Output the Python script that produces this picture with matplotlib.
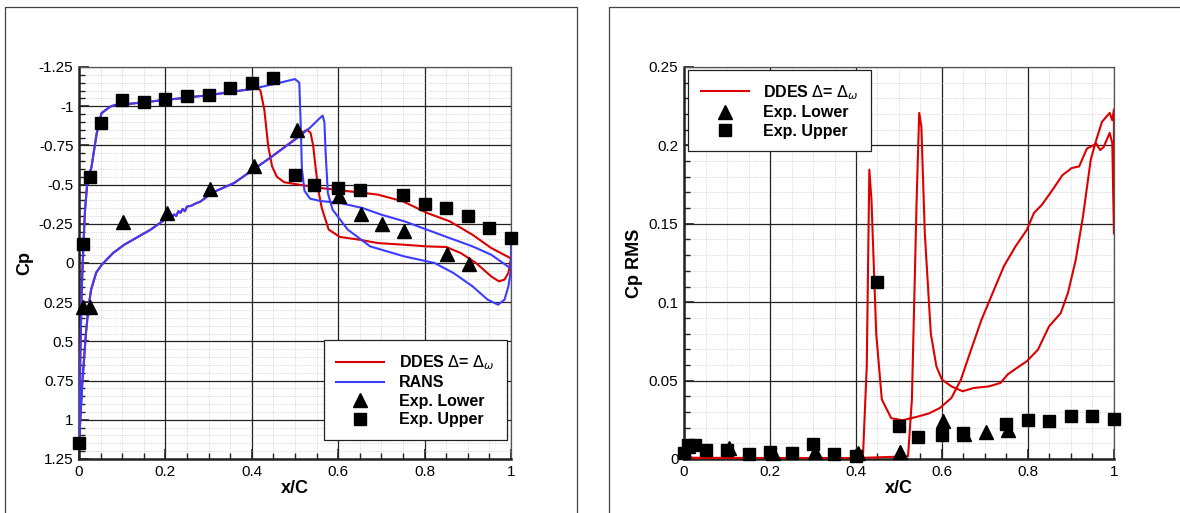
"""Surface Cp and Cp RMS along the chord: DDES / RANS vs experiment."""

import matplotlib.pyplot as plt
from matplotlib.ticker import MultipleLocator

plt.rcParams["font.family"] = ["Liberation Sans", "DejaVu Sans"]
plt.rcParams["mathtext.fontset"] = "dejavusans"

# ---- left panel: mean Cp ----
exp_up_x = [0.0, 0.01, 0.025, 0.05, 0.1, 0.15, 0.2, 0.25, 0.3, 0.35, 0.4, 0.45,
            0.5, 0.545, 0.6, 0.65, 0.75, 0.8, 0.85, 0.9, 0.95, 1.0]
exp_up_cp = [1.15, -0.12, -0.55, -0.89, -1.04, -1.025, -1.045, -1.063, -1.07, -1.115,
             -1.15, -1.18, -0.56, -0.5, -0.478, -0.463, -0.431, -0.378, -0.35, -0.302,
             -0.223, -0.159]
exp_lo_x = [0.01, 0.026, 0.103, 0.203, 0.304, 0.404, 0.504, 0.602, 0.652, 0.702,
            0.753, 0.852, 0.902]
exp_lo_cp = [0.281, 0.281, -0.259, -0.319, -0.474, -0.616, -0.85, -0.425, -0.312,
             -0.25, -0.202, -0.06, 0.006]

# DDES: upper surface TE -> LE, then lower surface LE -> TE
ddes_x = [1.0, 0.998, 0.954, 0.911, 0.858, 0.806, 0.75, 0.692, 0.648, 0.56, 0.508,
          0.475, 0.458, 0.447, 0.438, 0.429, 0.42, 0.413, 0.4, 0.35, 0.3, 0.25, 0.2,
          0.15, 0.1, 0.095, 0.072, 0.052, 0.041, 0.029, 0.019, 0.014, 0.01, 0.006,
          0.003, 0.0,
          0.004, 0.008, 0.012, 0.016, 0.022, 0.028, 0.04, 0.053, 0.079, 0.105, 0.166,
          0.2, 0.215, 0.22, 0.225, 0.23, 0.235, 0.24, 0.245, 0.25, 0.26, 0.27, 0.28,
          0.29, 0.306, 0.359, 0.403, 0.447, 0.5, 0.515, 0.528, 0.536, 0.542, 0.548,
          0.555, 0.562, 0.578, 0.604, 0.648, 0.692, 0.75, 0.806, 0.85, 0.884, 0.919,
          0.954, 0.972, 0.985, 0.994, 0.998, 1.0]
ddes_cp = [-0.03, -0.032, -0.096, -0.18, -0.266, -0.319, -0.393, -0.436, -0.45, -0.478,
           -0.5, -0.515, -0.55, -0.616, -0.744, -0.978, -1.1, -1.12, -1.11, -1.09,
           -1.07, -1.055, -1.04, -1.025, -1.01, -1.018, -0.997, -0.955, -0.827, -0.614,
           -0.508, -0.338, -0.104, 0.2, 0.6, 1.15,
           0.95, 0.75, 0.6, 0.45, 0.28, 0.17, 0.06, 0.01, -0.064, -0.117, -0.213, -0.28,
           -0.29, -0.31, -0.3, -0.33, -0.32, -0.345, -0.33, -0.36, -0.365, -0.38, -0.39,
           -0.41, -0.446, -0.51, -0.595, -0.68, -0.79, -0.83, -0.85, -0.83, -0.75, -0.6,
           -0.45, -0.35, -0.213, -0.166, -0.149, -0.127, -0.117, -0.106, -0.102, -0.063,
           0.0, 0.085, 0.117, 0.106, 0.063, 0.0, -0.03]

# RANS: upper surface TE -> LE, then lower surface LE -> TE
rans_x = [1.0, 0.998, 0.954, 0.911, 0.858, 0.806, 0.753, 0.7, 0.657, 0.604, 0.56,
          0.535, 0.522, 0.516, 0.513, 0.51, 0.5, 0.45, 0.4, 0.35, 0.3, 0.25, 0.2,
          0.15, 0.1, 0.095, 0.072, 0.052, 0.041, 0.029, 0.019, 0.014, 0.01, 0.006,
          0.003, 0.0,
          0.004, 0.008, 0.012, 0.016, 0.022, 0.028, 0.04, 0.053, 0.079, 0.105, 0.166,
          0.2, 0.215, 0.22, 0.225, 0.23, 0.235, 0.24, 0.245, 0.25, 0.26, 0.27, 0.28,
          0.29, 0.306, 0.359, 0.403, 0.447, 0.5, 0.534, 0.556, 0.564, 0.568, 0.571,
          0.576, 0.587, 0.622, 0.674, 0.753, 0.823, 0.867, 0.911, 0.946, 0.97, 0.985,
          0.994, 1.0, 1.0]
rans_cp = [0.032, 0.032, -0.053, -0.106, -0.159, -0.212, -0.266, -0.308, -0.35, -0.383,
           -0.395, -0.41, -0.46, -0.6, -0.9, -1.15, -1.173, -1.14, -1.11, -1.09, -1.07,
           -1.055, -1.04, -1.025, -1.01, -1.018, -0.997, -0.955, -0.827, -0.614, -0.508,
           -0.338, -0.104, 0.2, 0.6, 1.15,
           0.95, 0.75, 0.6, 0.45, 0.28, 0.17, 0.06, 0.01, -0.064, -0.117, -0.213, -0.28,
           -0.29, -0.31, -0.3, -0.33, -0.32, -0.345, -0.33, -0.36, -0.365, -0.38, -0.39,
           -0.41, -0.446, -0.51, -0.595, -0.68, -0.786, -0.861, -0.92, -0.94, -0.9,
           -0.7, -0.446, -0.34, -0.213, -0.106, -0.042, 0.0, 0.064, 0.149, 0.234, 0.266,
           0.234, 0.149, 0.042, -0.134]

# ---- right panel: Cp RMS ----
rms_up_x = [0.0, 0.01, 0.025, 0.05, 0.1, 0.15, 0.2, 0.25, 0.3, 0.35, 0.4, 0.45, 0.5,
            0.545, 0.6, 0.65, 0.75, 0.8, 0.85, 0.9, 0.95, 1.0]
rms_up_v = [0.0038, 0.0091, 0.0091, 0.006, 0.006, 0.0034, 0.0045, 0.0038, 0.0098,
            0.0034, 0.0021, 0.1129, 0.0213, 0.014, 0.0155, 0.0166, 0.0225, 0.0247,
            0.0242, 0.0272, 0.0272, 0.0255]
rms_lo_x = [0.01, 0.105, 0.206, 0.305, 0.405, 0.503, 0.602, 0.652, 0.702, 0.753]
rms_lo_v = [0.008, 0.007, 0.0038, 0.0045, 0.0038, 0.0043, 0.0245, 0.016, 0.017, 0.0187]

# DDES RMS: surface with shock near x=0.42, then back along surface with shock near 0.55
ddes_rms_x = [1.0, 0.996, 0.99, 0.976, 0.968, 0.959, 0.937, 0.919, 0.902, 0.88, 0.858,
              0.832, 0.814, 0.797, 0.771, 0.744, 0.718, 0.692, 0.665, 0.644, 0.622,
              0.595, 0.569, 0.543, 0.508, 0.482, 0.46, 0.447, 0.436, 0.431, 0.425,
              0.416, 0.4, 0.2, 0.02, 0.01, 0.004, 0.0,
              0.006, 0.015, 0.2, 0.4, 0.521, 0.53, 0.541, 0.547, 0.552, 0.56, 0.574,
              0.587, 0.6, 0.622, 0.648, 0.674, 0.709, 0.736, 0.753, 0.779, 0.797,
              0.823, 0.849, 0.876, 0.893, 0.911, 0.928, 0.946, 0.959, 0.972, 0.99,
              0.996, 1.0, 1.0]
ddes_rms_v = [0.144, 0.2015, 0.208, 0.199, 0.197, 0.201, 0.198, 0.1866, 0.1856, 0.181,
              0.172, 0.162, 0.157, 0.146, 0.1356, 0.123, 0.106, 0.0889, 0.0676, 0.0506,
              0.039, 0.0325, 0.029, 0.027, 0.0247, 0.026, 0.038, 0.08, 0.165, 0.1845,
              0.059, 0.0006, 0.0006, 0.0006, 0.0008, 0.002, 0.004, 0.003,
              0.0015, 0.0006, 0.0006, 0.0006, 0.0017, 0.038, 0.165, 0.2207, 0.212,
              0.144, 0.08, 0.059, 0.0506, 0.0463, 0.0432, 0.0453, 0.0463, 0.0485, 0.054,
              0.059, 0.0623, 0.0697, 0.0846, 0.093, 0.106, 0.127, 0.155, 0.191, 0.2037,
              0.215, 0.2207, 0.216, 0.223, 0.144]

RED = "#dd0000"
BLUE = "#3c3cff"
DDES_LABEL = r"DDES $\Delta$= $\Delta_{\omega}$"


def style_axes(ax, ymin, ymax, ymajor, yminor):
    ax.set_xlim(0, 1)
    ax.set_ylim(ymin, ymax)
    ax.xaxis.set_major_locator(MultipleLocator(0.2))
    ax.xaxis.set_minor_locator(MultipleLocator(0.05))
    ax.yaxis.set_major_locator(MultipleLocator(ymajor))
    ax.yaxis.set_minor_locator(MultipleLocator(yminor))
    ax.grid(True, which="major", color="#222222", linewidth=0.9)
    ax.grid(True, which="minor", color="#bbbbbb", linewidth=0.5, linestyle=":")
    ax.set_axisbelow(True)
    ax.tick_params(which="both", direction="in", top=False, right=False,
                   labelsize=11, pad=4, color="#222222")
    ax.tick_params(which="major", length=7, width=1.2)
    ax.tick_params(which="minor", length=4, width=1.0)
    ax.xaxis.set_major_formatter(plt.FuncFormatter(lambda v, p: f"{v:g}"))
    ax.yaxis.set_major_formatter(plt.FuncFormatter(lambda v, p: f"{v:g}"))
    for side in ("left", "bottom"):
        ax.spines[side].set_linewidth(1.8)
        ax.spines[side].set_color("#222222")
    for side in ("top", "right"):
        ax.spines[side].set_linewidth(0.9)
        ax.spines[side].set_color("#555555")
    ax.set_xlabel("x/C", fontsize=13, fontweight="bold", labelpad=1)


def add_legend(ax, **kw):
    leg = ax.legend(frameon=True, fancybox=False, edgecolor="#222222", framealpha=1,
                    prop={"weight": "bold", "size": 11.5}, handlelength=3.0,
                    handletextpad=0.9, labelspacing=0.22, borderpad=0.8,
                    borderaxespad=0.0, **kw)
    leg.get_frame().set_linewidth(0.9)
    return leg


fig = plt.figure(figsize=(11.8, 5.13), dpi=100)

# panel frames (open at the bottom)
for x0, x1 in [(5, 577), (609, 1181)]:
    fig.add_artist(plt.Line2D([x0 / 1180, x0 / 1180, x1 / 1180, x1 / 1180],
                              [0, 506 / 513, 506 / 513, 0],
                              transform=fig.transFigure, color="#444444", lw=0.9))

ax1 = fig.add_axes([79 / 1180, 54 / 513, 432 / 1180, 392 / 513])
ax2 = fig.add_axes([684 / 1180, 54 / 513, 430 / 1180, 392 / 513])

ax1.plot(ddes_x, ddes_cp, color=RED, lw=1.5, label=DDES_LABEL, zorder=3)
ax1.plot(rans_x, rans_cp, color=BLUE, lw=1.5, label="RANS", zorder=3)
ax1.plot(exp_lo_x, exp_lo_cp, "^", color="black", ms=9.5, label="Exp. Lower",
         clip_on=False, zorder=4)
ax1.plot(exp_up_x, exp_up_cp, "s", color="black", ms=9, label="Exp. Upper",
         clip_on=False, zorder=4)
style_axes(ax1, 1.25, -1.25, 0.25, 0.05)
ax1.set_ylabel("Cp", fontsize=13, fontweight="bold", labelpad=4)
add_legend(ax1, loc="lower right", bbox_to_anchor=(0.991, 0.048))

ax2.plot(ddes_rms_x, ddes_rms_v, color=RED, lw=1.5, label=DDES_LABEL, zorder=3)
ax2.plot(rms_lo_x, rms_lo_v, "^", color="black", ms=9.5, label="Exp. Lower",
         clip_on=False, zorder=4)
ax2.plot(rms_up_x, rms_up_v, "s", color="black", ms=9, label="Exp. Upper",
         clip_on=False, zorder=4)
style_axes(ax2, 0, 0.25, 0.05, 0.01)
ax2.set_ylabel("Cp RMS", fontsize=13, fontweight="bold", labelpad=4)
add_legend(ax2, loc="upper left", bbox_to_anchor=(0.009, 0.992))

fig.savefig("out.png", dpi=100)
